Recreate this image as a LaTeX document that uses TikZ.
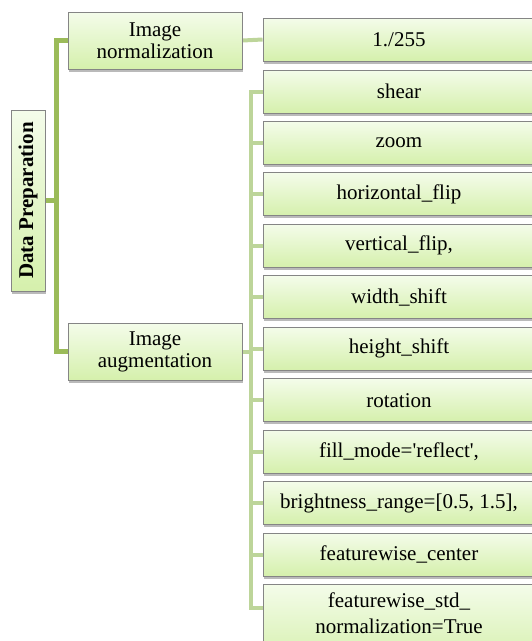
\documentclass[tikz,border=0pt]{standalone}
\usepackage{fontspec}
\newfontfamily\boxfont{Liberation Serif}
\usetikzlibrary{shadows,backgrounds}
\definecolor{lconn}{HTML}{9BBB59}
\definecolor{rconn}{HTML}{BDD59A}
\definecolor{gtop}{HTML}{F4FCEA}
\definecolor{gbot}{HTML}{D5F0AC}
\definecolor{bord}{HTML}{858585}
\tikzset{
  gbox/.style={draw=bord, line width=0.9pt, top color=gtop, bottom color=gbot,
    inner sep=0pt, align=center,
    font=\boxfont\fontsize{21}{22}\selectfont,
    drop shadow={shadow xshift=1pt, shadow yshift=-2.5pt, opacity=0.45, fill=black!60}},
  itembox/.style={gbox, minimum width=272pt, minimum height=43pt},
  lline/.style={draw=lconn, line width=4.5pt},
  rline/.style={draw=rconn, line width=4pt},
}
\begin{document}
\begin{tikzpicture}[x=1pt,y=-1pt]
\useasboundingbox (0,0) rectangle (532,641);
\clip (0,0) rectangle (532,641);
\node[gbox, rotate=90, minimum width=181pt, minimum height=34pt, font=\boxfont\bfseries\fontsize{21}{22}\selectfont] (dp) at (28,200.5) {Data Preparation};
\node[gbox, minimum width=174pt, minimum height=57pt] (norm) at (155,40.5) {Image\\normalization};
\node[gbox, minimum width=174pt, minimum height=57pt] (aug) at (155,351.5) {Image\\augmentation};
\node[itembox] (n1) at (399,39.5) {1./255};
\node[itembox] (a1) at (399,91.5) {shear};
\node[itembox] (a2) at (399,142.9) {zoom};
\node[itembox] (a3) at (399,194.4) {horizontal\_flip};
\node[itembox] (a4) at (399,245.8) {vertical\_flip,};
\node[itembox] (a5) at (399,297.3) {width\_shift};
\node[itembox] (a6) at (399,348.7) {height\_shift};
\node[itembox] (a7) at (399,400.2) {rotation};
\node[itembox] (a8) at (399,451.6) {fill\_mode='reflect',};
\node[itembox] (a9) at (399,503.1) {brightness\_range=[0.5, 1.5],};
\node[itembox] (a10) at (399,554.5) {featurewise\_center};
\node[itembox, minimum height=80pt] (a11) at (399,624) {};
\node[font=\boxfont\fontsize{21}{26}\selectfont, align=center, inner sep=0pt, anchor=base] (a11t) at (399,633) {featurewise\_std\_\\normalization=True};
\begin{pgfonlayer}{background}
\coordinate (lt) at (56.5,200.5);
\coordinate (rt) at (251,351.5);
\draw[lline] (dp) -- (lt);
\draw[lline] (norm.west) -| (lt);
\draw[lline] (aug.west) -| (lt);
\draw[rline] (norm.east) -- (n1.west);
\draw[rline] (aug.east) -- (rt);
\foreach \b in {a1,a2,a3,a4,a5,a6,a7,a8,a9,a10}{
  \draw[rline] (\b.west) -| (rt);
}
\coordinate (a11c) at (263,608);
\draw[rline] (a11c) -| (rt);
\end{pgfonlayer}
\end{tikzpicture}
\end{document}
